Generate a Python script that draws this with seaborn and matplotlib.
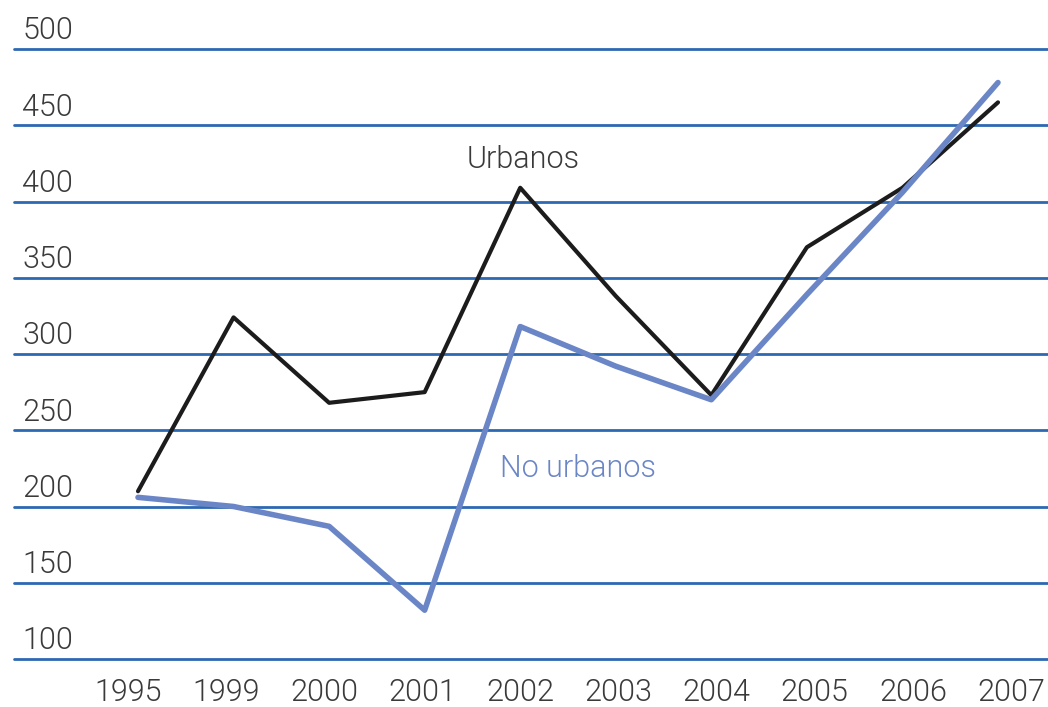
import numpy as np
import pandas as pd
import matplotlib
matplotlib.use("Agg")
import matplotlib.pyplot as plt
import matplotlib.transforms as mtransforms
import seaborn as sns

years = ["1995", "1999", "2000", "2001", "2002", "2003", "2004", "2005", "2006", "2007"]
urbanos = [210, 324, 268, 275, 409, 338, 273, 370, 409, 465]
no_urbanos = [206, 200, 187, 132, 318, 292, 270, 339, 406, 478]
y_ticks = [100, 150, 200, 250, 300, 350, 400, 450, 500]
series_names = ["Urbanos", "No urbanos"]

sns.set_theme(style="white")
plt.rcParams["font.family"] = ["Roboto", "DejaVu Sans"]

W, H = 1048, 707
fig = plt.figure(figsize=(W / 100, H / 100), dpi=100)
x_left, x_right = 14, 1048
y_top, y_bot = 49, 659
ax = fig.add_axes([x_left / W, 1 - y_bot / H, (x_right - x_left) / W, (y_bot - y_top) / H])

pos = np.arange(len(years))
df = pd.DataFrame({
    "pos": np.concatenate([pos, pos]),
    "value": urbanos + no_urbanos,
    "serie": [series_names[0]] * len(years) + [series_names[1]] * len(years),
})

black = "#1c1c1c"
blue = "#6b86c6"
grid_blue = "#2d69b2"
text_col = "#3a3a3a"
fw = 300

for yv in y_ticks:
    ax.axhline(yv, color=grid_blue, lw=2.0, zorder=1, clip_on=False)

sns.lineplot(data=df[df.serie == series_names[0]], x="pos", y="value", color=black,
             lw=3.0, ax=ax, sort=False, zorder=3, legend=False)
sns.lineplot(data=df[df.serie == series_names[1]], x="pos", y="value", color=blue,
             lw=4.0, ax=ax, sort=False, zorder=4, legend=False)

px0, px9 = 138, 998
ppu = (px9 - px0) / 9
ax.set_xlim(-(px0 - x_left) / ppu, (x_right - px0) / ppu)
ax.set_ylim(100, 500)

for s in ax.spines.values():
    s.set_visible(False)

ax.set_xlabel("")
ax.set_ylabel("")
ax.set_xticks(pos)
ax.set_xticklabels(years)
ax.set_yticks(y_ticks)
ax.set_yticklabels([str(v) for v in y_ticks])
ax.tick_params(axis="x", length=0, pad=14, labelsize=22, labelcolor=text_col)
ax.tick_params(axis="y", length=0, pad=-6, labelsize=22, labelcolor=text_col)
# year labels are spread slightly wider than the data points in the original
n = len(years)
for i, lbl in enumerate(ax.get_xticklabels()):
    lbl.set_fontweight(fw)
    dx = -10 + i * (23 / (n - 1))
    lbl.set_transform(lbl.get_transform() +
                      mtransforms.ScaledTranslation(dx / 100, 0, fig.dpi_scale_trans))
off = mtransforms.ScaledTranslation(0, 7 / 72, fig.dpi_scale_trans)
for lbl in ax.get_yticklabels():
    lbl.set_horizontalalignment("left")
    lbl.set_verticalalignment("baseline")
    lbl.set_fontweight(fw)
    lbl.set_transform(lbl.get_transform() + off)

ax.text(4.03, 418, series_names[0], color=text_col, fontsize=22, fontweight=fw,
        ha="center", va="bottom")
ax.text(4.6, 225, series_names[1], color=blue, fontsize=22, fontweight=fw,
        ha="center", va="center")

fig.savefig("out.png", dpi=100, facecolor="white")
